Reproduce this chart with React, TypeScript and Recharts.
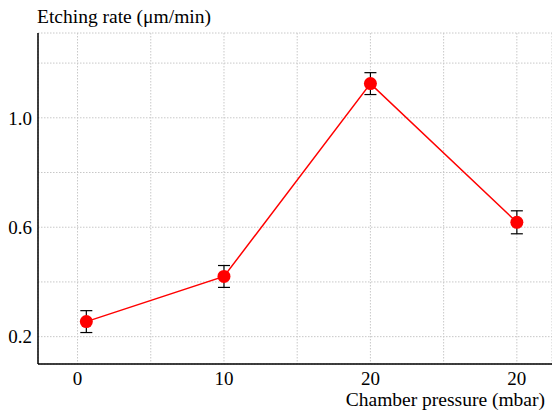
import React from 'react';
import { LineChart, Line, XAxis, YAxis, CartesianGrid, ErrorBar } from 'recharts';

const pressures = [0.6, 10, 20, 30];
const rates = [0.255, 0.42, 1.125, 0.618];
const errors = [0.04, 0.04, 0.04, 0.042];

const xTicks = [0, 5, 10, 15, 20, 25, 30];
const xMajor = [0, 10, 20, 30];
const xMajorLabels = ['0', '10', '20', '20'];

const yTicks = [0.2, 0.4, 0.6, 0.8, 1.0, 1.2];
const yMajor = [0.2, 0.6, 1.0];
const yMajorLabels = ['0.2', '0.6', '1.0'];

const data = pressures.map((p, i) => ({ p, rate: rates[i], err: errors[i] }));

const FONT = 'Liberation Serif, DejaVu Serif, serif';
const tickStyle = { fill: '#000', fontSize: 19, fontFamily: FONT };

const xLabel = (v: number) => {
  const i = xMajor.indexOf(v);
  return i >= 0 ? xMajorLabels[i] : '';
};
const yLabel = (v: number) => {
  const i = yMajor.findIndex((m) => Math.abs(m - v) < 1e-6);
  return i >= 0 ? yMajorLabels[i] : '';
};

export default function App() {
  return (
    <div style={{ position: 'absolute', left: 0, top: 0, width: 552, height: 413, background: '#fff', fontFamily: FONT }}>
      <LineChart width={552} height={413} data={data} margin={{ top: 33, right: 0, bottom: 0, left: 0 }}>
        <CartesianGrid stroke="#c8c8c8" strokeDasharray="1.5 1.5" />
        <XAxis
          dataKey="p"
          type="number"
          domain={[-2.7, 32.4]}
          ticks={xTicks}
          tickFormatter={xLabel}
          interval={0}
          height={49}
          tickSize={0}
          tickMargin={8}
          axisLine={{ stroke: '#000', strokeWidth: 1.5 }}
          tick={tickStyle}
        />
        <XAxis
          xAxisId="top"
          orientation="top"
          dataKey="p"
          type="number"
          domain={[-2.7, 32.4]}
          height={0}
          tick={false}
          tickLine={false}
          axisLine={{ stroke: '#000', strokeWidth: 1.5 }}
        />
        <YAxis
          type="number"
          domain={[0.1, 1.31]}
          ticks={yTicks}
          tickFormatter={yLabel}
          interval={0}
          width={38}
          tickSize={0}
          tickMargin={6}
          axisLine={{ stroke: '#000', strokeWidth: 1.5 }}
          tick={tickStyle}
        />
        <Line
          dataKey="rate"
          stroke="#ff0000"
          strokeWidth={1.5}
          dot={{ r: 6.5, fill: '#ff0000', stroke: 'none' }}
          isAnimationActive={false}
        >
          <ErrorBar dataKey="err" direction="y" width={6} stroke="#000" strokeWidth={1.2} isAnimationActive={false} />
        </Line>
      </LineChart>
      <svg width={552} height={413} style={{ position: 'absolute', left: 0, top: 0, pointerEvents: 'none', fontFamily: FONT }}>
        <text x={37} y={23} fontSize={19.5} fill="#000">
          Etching rate (μm/min)
        </text>
        <text x={545} y={406} textAnchor="end" fontSize={19.5} fill="#000">
          Chamber pressure (mbar)
        </text>
      </svg>
    </div>
  );
}
